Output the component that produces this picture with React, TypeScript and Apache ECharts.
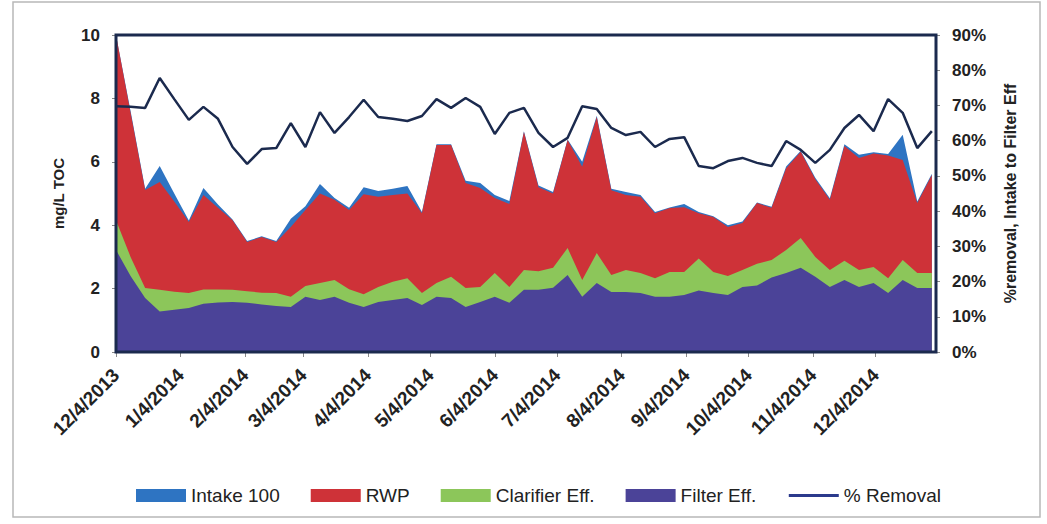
import React, { useEffect, useRef } from "react";
import * as echarts from "echarts";

const dates = [
  "2013-12-04", "2013-12-11", "2013-12-18", "2013-12-25",
  "2014-01-01", "2014-01-08", "2014-01-15", "2014-01-22", "2014-01-29",
  "2014-02-05", "2014-02-12", "2014-02-19", "2014-02-26",
  "2014-03-05", "2014-03-12", "2014-03-19", "2014-03-26",
  "2014-04-02", "2014-04-09", "2014-04-16", "2014-04-23", "2014-04-30",
  "2014-05-07", "2014-05-14", "2014-05-21", "2014-05-28",
  "2014-06-04", "2014-06-11", "2014-06-18", "2014-06-25",
  "2014-07-02", "2014-07-09", "2014-07-16", "2014-07-23", "2014-07-30",
  "2014-08-06", "2014-08-13", "2014-08-20", "2014-08-27",
  "2014-09-03", "2014-09-10", "2014-09-17", "2014-09-24",
  "2014-10-01", "2014-10-08", "2014-10-15", "2014-10-22", "2014-10-29",
  "2014-11-05", "2014-11-12", "2014-11-19", "2014-11-26",
  "2014-12-03", "2014-12-10", "2014-12-17", "2014-12-24", "2014-12-31",
];

const intake100 = [
  10.0, 7.6, 5.15, 5.87, 5.0, 4.15, 5.17, 4.65, 4.18, 3.5,
  3.65, 3.5, 4.2, 4.6, 5.3, 4.86, 4.55, 5.2, 5.08, 5.15,
  5.24, 4.42, 6.55, 6.55, 5.4, 5.33, 4.95, 4.76, 6.96, 5.25,
  5.05, 6.7, 6.0, 7.45, 5.15, 5.05, 4.95, 4.42, 4.56, 4.67,
  4.42, 4.28, 4.0, 4.12, 4.72, 4.58, 5.85, 6.35, 5.5, 4.85,
  6.55, 6.22, 6.3, 6.25, 6.85, 4.75, 5.62,
];

const rwp = [
  10.0, 7.55, 5.11, 5.36, 4.75, 4.1, 4.95, 4.55, 4.16, 3.47,
  3.63, 3.47, 3.94, 4.48, 5.0, 4.8, 4.48, 4.98, 4.9, 4.95,
  5.0, 4.38, 6.53, 6.53, 5.33, 5.17, 4.86, 4.67, 6.94, 5.2,
  5.0, 6.69, 5.84, 7.41, 5.1, 4.95, 4.9, 4.38, 4.54, 4.57,
  4.38, 4.26, 3.94, 4.07, 4.7, 4.55, 5.8, 6.32, 5.45, 4.8,
  6.5, 6.12, 6.26, 6.2, 6.06, 4.7, 5.58,
];

const clarifierEff = [
  4.16, 3.0, 2.02, 1.96, 1.9, 1.86, 1.97, 1.97, 1.96, 1.92,
  1.87, 1.86, 1.74, 2.08, 2.18, 2.27, 1.98, 1.82, 2.05, 2.22,
  2.33, 1.86, 2.18, 2.37, 2.02, 2.05, 2.49, 2.05, 2.59, 2.55,
  2.66, 3.28, 2.27, 3.12, 2.43, 2.59, 2.49, 2.33, 2.52, 2.52,
  2.95, 2.52, 2.4, 2.59, 2.78, 2.9, 3.22, 3.6, 3.0, 2.59,
  2.88, 2.59, 2.68, 2.33, 2.9, 2.49, 2.49,
];

const filterEff = [
  3.22, 2.4, 1.7, 1.28, 1.33, 1.39, 1.52, 1.56, 1.58, 1.55,
  1.5, 1.45, 1.42, 1.74, 1.64, 1.74, 1.55, 1.42, 1.58, 1.64,
  1.7, 1.48, 1.74, 1.7, 1.42, 1.58, 1.74, 1.55, 1.96, 1.96,
  2.03, 2.43, 1.74, 2.18, 1.89, 1.89, 1.86, 1.74, 1.74, 1.8,
  1.94, 1.86, 1.8, 2.05, 2.1, 2.35, 2.49, 2.66, 2.37, 2.05,
  2.27, 2.05, 2.18, 1.86, 2.27, 2.02, 2.02,
];

const pctRemoval = [
  69.8, 69.6, 69.3, 77.8, 71.8, 65.9, 69.6, 66.2, 58.2, 53.4,
  57.6, 57.9, 65.0, 58.2, 68.1, 62.2, 66.7, 71.6, 66.7, 66.2,
  65.6, 67.0, 71.8, 69.3, 72.1, 69.6, 61.9, 67.9, 69.3, 62.2,
  58.2, 60.8, 69.8, 69.0, 63.6, 61.6, 62.5, 58.2, 60.5, 61.0,
  52.8, 52.2, 54.2, 55.1, 53.7, 52.8, 59.9, 57.4, 53.7, 57.4,
  63.6, 67.3, 62.7, 71.8, 67.9, 57.9, 62.7,
];

const tickDates = [
  "2013-12-04", "2014-01-04", "2014-02-04", "2014-03-04", "2014-04-04",
  "2014-05-04", "2014-06-04", "2014-07-04", "2014-08-04", "2014-09-04",
  "2014-10-04", "2014-11-04", "2014-12-04",
];

const axisStart = "2013-12-04";
const axisEnd = "2015-01-02";

const seriesNames = ["Intake 100", "RWP", "Clarifier Eff.", "Filter Eff.", "% Removal"];
const areaColors = ["#2E74C2", "#CE3238", "#8CC65A", "#4B4398"];
const lineColor = "#1B2A4E";
const legendLineColor = "#2B3A8C";

const toTs = (s: string) => {
  const [y, m, d] = s.split("-").map(Number);
  return Date.UTC(y, m - 1, d);
};

const fmtDate = (v: number) => {
  const d = new Date(v);
  return `${d.getUTCMonth() + 1}/${d.getUTCDate()}/${d.getUTCFullYear()}`;
};

const FONT = "'Liberation Sans', Arial, sans-serif";

export default function App() {
  const ref = useRef<HTMLDivElement>(null);

  useEffect(() => {
    if (!ref.current) return;
    const chart = echarts.init(ref.current, undefined, { renderer: "svg" });
    const areaData = [intake100, rwp, clarifierEff, filterEff];
    const ticks = tickDates.map(toTs);

    const areaSeries = areaData.map((arr, k) => ({
      name: seriesNames[k],
      type: "line",
      xAxisIndex: 0,
      yAxisIndex: 0,
      data: dates.map((d, i) => [toTs(d), arr[i]]),
      symbol: "none",
      lineStyle: { width: 0, color: areaColors[k] },
      itemStyle: { color: areaColors[k] },
      areaStyle: { color: areaColors[k], opacity: 1 },
      z: 2 + k,
    }));

    chart.setOption({
      animation: false,
      backgroundColor: "#ffffff",
      textStyle: { fontFamily: FONT },
      grid: { left: 116, right: 111, top: 35, bottom: 172, show: false },
      legend: {
        left: 131,
        top: 481,
        itemWidth: 50,
        itemHeight: 13,
        itemGap: 31,
        textStyle: { fontSize: 19, color: "#222", fontFamily: FONT },
        data: [
          { name: seriesNames[0], icon: "rect" },
          { name: seriesNames[1], icon: "rect" },
          { name: seriesNames[2], icon: "rect" },
          { name: seriesNames[3], icon: "rect" },
          {
            name: seriesNames[4],
            itemStyle: { opacity: 0, color: "transparent", borderWidth: 0 },
            lineStyle: { width: 3, color: legendLineColor },
          },
        ],
      },
      xAxis: {
        type: "value",
        min: toTs(axisStart),
        max: toTs(axisEnd),
        splitLine: { show: false },
        axisLine: { show: true, lineStyle: { color: lineColor, width: 2 } },
        axisTick: { show: true, customValues: ticks, length: 5, lineStyle: { color: "#888" } },
        axisLabel: {
          customValues: ticks,
          rotate: 45,
          formatter: (v: number) => fmtDate(v),
          fontSize: 19,
          fontWeight: "bold",
          color: "#222",
          margin: 20,
          fontFamily: FONT,
        },
      },
      yAxis: [
        {
          type: "value",
          min: 0,
          max: 10,
          interval: 2,
          name: "mg/L TOC",
          nameLocation: "middle",
          nameGap: 50,
          nameRotate: 90,
          nameTextStyle: { fontSize: 15, fontWeight: "bold", color: "#222", fontFamily: FONT },
          splitLine: { show: false },
          axisLine: { show: true, lineStyle: { color: lineColor, width: 2 } },
          axisTick: { show: true, length: 4, lineStyle: { color: "#888" } },
          axisLabel: { fontSize: 17, fontWeight: "bold", color: "#222", margin: 16, fontFamily: FONT },
        },
        {
          type: "value",
          min: 0,
          max: 90,
          interval: 10,
          position: "right",
          name: "%removal, Intake to Filter Eff",
          nameLocation: "middle",
          nameGap: 66,
          nameRotate: 90,
          nameTextStyle: { fontSize: 16, fontWeight: "bold", color: "#222", fontFamily: FONT },
          splitLine: { show: false },
          axisLine: { show: true, lineStyle: { color: lineColor, width: 2 } },
          axisTick: { show: true, length: 4, lineStyle: { color: "#888" } },
          axisLabel: {
            formatter: "{value}%",
            fontSize: 17,
            fontWeight: "bold",
            color: "#222",
            margin: 16,
            fontFamily: FONT,
          },
        },
      ],
      series: [
        ...areaSeries,
        {
          name: seriesNames[4],
          type: "line",
          xAxisIndex: 0,
          yAxisIndex: 1,
          data: dates.map((d, i) => [toTs(d), pctRemoval[i]]),
          symbol: "none",
          lineStyle: { width: 2.5, color: lineColor },
          itemStyle: { color: lineColor },
          z: 10,
        },
      ],
      graphic: [
        {
          type: "rect",
          z: 100,
          silent: true,
          shape: { x: 116, y: 35, width: 820, height: 317 },
          style: { fill: "none", stroke: lineColor, lineWidth: 3 },
        },
        {
          type: "rect",
          z: 100,
          silent: true,
          shape: { x: 13, y: 2, width: 1027, height: 515 },
          style: { fill: "none", stroke: "#b8b8b8", lineWidth: 1.5 },
        },
      ],
    });

    return () => chart.dispose();
  }, []);

  return (
    <div
      ref={ref}
      style={{ position: "fixed", left: 0, top: 0, width: 1047, height: 524 }}
    />
  );
}
